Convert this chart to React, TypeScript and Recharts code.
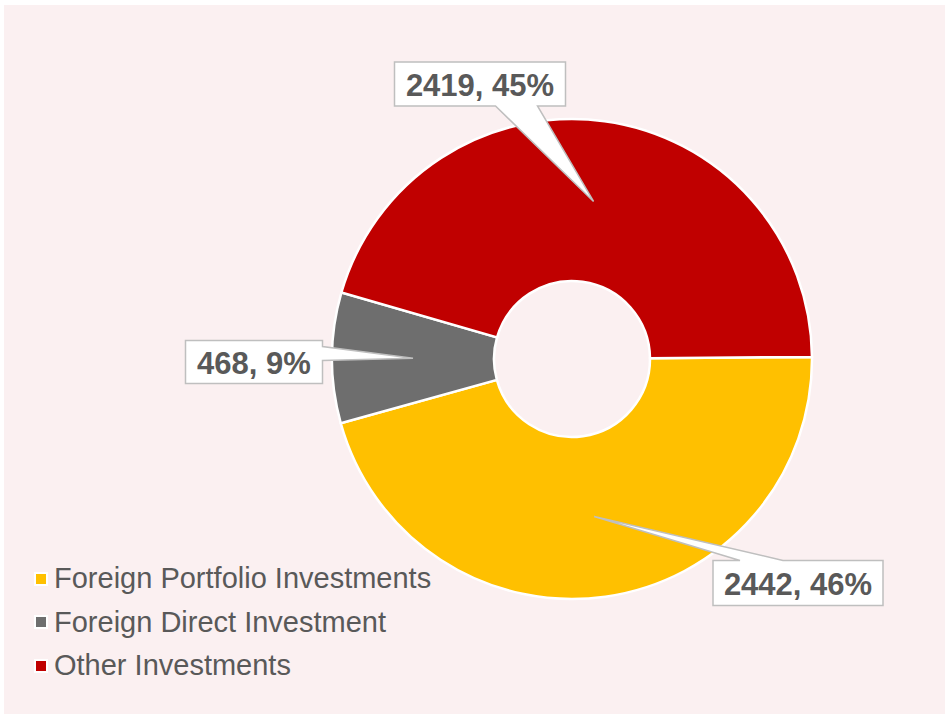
import React from "react";
import { PieChart, Pie, Cell } from "recharts";

const categories = [
  "Foreign Portfolio Investments",
  "Foreign Direct Investment",
  "Other Investments",
];
const values = [2442, 468, 2419];
const colors = ["#FFC000", "#6E6E6E", "#C00000"];

const data = categories.map((name, i) => ({ name, value: values[i] }));

// callout boxes, relative to pie centre: box centre, size, and which side the pointer leaves from
const callouts = [
  { dx: 226, dy: 224, w: 170, h: 45, side: "top", b1: 27, b2: 70 },
  { dx: -318, dy: 3, w: 137, h: 43, side: "right", b1: 6, b2: 20 },
  { dx: -92, dy: -275, w: 171, h: 44, side: "bottom", b1: 101, b2: 143 },
];

const RADIAN = Math.PI / 180;
const textColor = "#595959";

function calloutPath(x0: number, y0: number, w: number, h: number, c: any, tx: number, ty: number) {
  const x1 = x0 + w;
  const y1 = y0 + h;
  if (c.side === "top") {
    return `M${x0},${y0} H${x0 + c.b1} L${tx},${ty} L${x0 + c.b2},${y0} H${x1} V${y1} H${x0} Z`;
  }
  if (c.side === "right") {
    return `M${x0},${y0} H${x1} V${y0 + c.b1} L${tx},${ty} L${x1},${y0 + c.b2} V${y1} H${x0} Z`;
  }
  return `M${x0},${y0} H${x1} V${y1} H${x0 + c.b2} L${tx},${ty} L${x0 + c.b1},${y1} H${x0} Z`;
}

function renderLabel(props: any) {
  const { cx, cy, midAngle, innerRadius, outerRadius, value, percent, index } = props;
  const c = callouts[index];
  const r = (innerRadius + outerRadius) / 2;
  const tx = cx + r * Math.cos(-midAngle * RADIAN);
  const ty = cy + r * Math.sin(-midAngle * RADIAN);
  const bx = cx + c.dx - c.w / 2;
  const by = cy + c.dy - c.h / 2;
  return (
    <g>
      <path
        d={calloutPath(bx, by, c.w, c.h, c, tx, ty)}
        fill="#FFFFFF"
        stroke="#BFBFBF"
        strokeWidth={1.5}
      />
      <text
        x={cx + c.dx}
        y={cy + c.dy + 1}
        textAnchor="middle"
        dominantBaseline="central"
        fill={textColor}
        fontSize={31}
        fontWeight="bold"
        fontFamily="Arial, 'Liberation Sans', sans-serif"
      >
        {`${value}, ${Math.round(percent * 100)}%`}
      </text>
    </g>
  );
}

export default function App() {
  return (
    <div
      style={{
        position: "relative",
        width: 945,
        height: 714,
        background: "#FFFFFF",
        fontFamily: "Arial, 'Liberation Sans', sans-serif",
      }}
    >
      <style>{`body{margin:0}`}</style>
      <div
        style={{
          position: "absolute",
          left: 4,
          top: 5,
          right: 0,
          bottom: 0,
          background: "#FBF0F1",
        }}
      />
      <div style={{ position: "absolute", left: 0, top: 0 }}>
        <PieChart width={945} height={714} margin={{ top: 0, right: 0, bottom: 0, left: 0 }}>
          <Pie
            data={data}
            dataKey="value"
            nameKey="name"
            cx={572}
            cy={359}
            innerRadius={78}
            outerRadius={240}
            startAngle={0.5}
            endAngle={-359.5}
            stroke="#FFFFFF"
            strokeWidth={2.5}
            label={renderLabel}
            labelLine={false}
            isAnimationActive={false}
          >
            {data.map((_, i) => (
              <Cell key={i} fill={colors[i]} />
            ))}
          </Pie>
        </PieChart>
      </div>
      {/* legend */}
      <div style={{ position: "absolute", left: 34, top: 557 }}>
        {categories.map((name, i) => (
          <div key={name} style={{ display: "flex", alignItems: "center", height: 43.5 }}>
            <span
              style={{
                width: 10,
                height: 10,
                background: colors[i],
                border: "2px solid #FFFFFF",
                marginRight: 6,
                display: "inline-block",
              }}
            />
            <span style={{ fontSize: 29, color: textColor, whiteSpace: "nowrap" }}>{name}</span>
          </div>
        ))}
      </div>
    </div>
  );
}
